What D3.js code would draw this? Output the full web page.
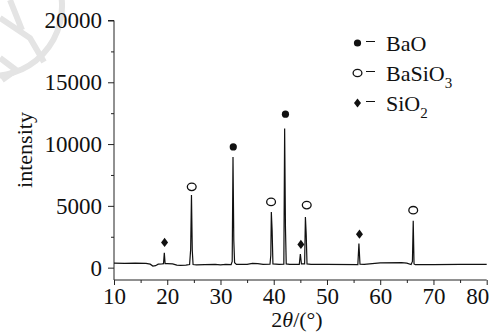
<!DOCTYPE html>
<html>
<head>
<meta charset="utf-8">
<script src="https://cdn.jsdelivr.net/npm/d3@7"></script>
<style>
  body { margin: 0; background: #fff; }
  svg text { font-family: "Liberation Serif", "DejaVu Serif", serif; fill: #111; }
</style>
</head>
<body>
<div id="chart"></div>
<script>
// XRD pattern: [2theta, intensity]
const pattern = [
  [10, 360], [12, 350], [14, 360], [16, 340], [16.8, 280], [17.3, 130], [17.8, 160], [18.3, 280],
  [19.0, 300], [19.3, 320], [19.45, 1200], [19.6, 320], [20, 330], [21, 300], [21.8, 200], [22.5, 180],
  [23.5, 200], [24.2, 250], [24.4, 1500], [24.55, 5870], [24.7, 1400], [24.85, 250], [25.5, 230],
  [27, 240], [29, 260], [30, 230], [31, 260], [32, 250], [32.2, 500], [32.35, 8960], [32.5, 2200],
  [32.65, 400], [33, 260], [35, 270], [36, 340], [37, 330], [38, 270], [39.3, 280], [39.45, 1000],
  [39.55, 4500], [39.7, 3000], [39.85, 300], [41, 270], [41.9, 280], [42.05, 11260], [42.2, 3300],
  [42.35, 300], [43, 260], [44.8, 270], [45.0, 1100], [45.2, 300], [45.8, 300], [45.95, 4100],
  [46.1, 2700], [46.25, 300], [47, 270], [50, 260], [55.8, 250], [56.0, 1950], [56.2, 280], [57, 270],
  [60, 390], [64, 400], [65, 360], [65.8, 250], [66.05, 500], [66.2, 3790], [66.35, 300], [66.6, 240],
  [70, 250], [75, 270], [80, 260]
];

// peak markers: [2theta, intensity, phase]
const markers = [
  [19.5, 2040, 'SiO2'], [24.6, 6540, 'BaSiO3'], [32.4, 9770, 'BaO'], [39.5, 5320, 'BaSiO3'],
  [42.2, 12420, 'BaO'], [45.1, 1880, 'SiO2'], [46.2, 5060, 'BaSiO3'], [56.1, 2710, 'SiO2'],
  [66.2, 4650, 'BaSiO3']
];

const phases = ['BaO', 'BaSiO3', 'SiO2'];
const phaseLabels = [['BaO', ''], ['BaSiO', '3'], ['SiO', '2']];

const xTicks = [10, 20, 30, 40, 50, 60, 70, 80];
const yTicks = [0, 5000, 10000, 15000, 20000];

const width = 497, height = 332;
const svg = d3.select('#chart').append('svg')
    .attr('width', width)
    .attr('height', height);

// faint watermark in the corner
const wm = svg.append('g')
    .attr('fill', 'none')
    .attr('stroke', '#e4e4e4')
    .attr('stroke-width', 6);
wm.append('path').attr('d', d3.arc()({innerRadius: 70, outerRadius: 70, startAngle: 1.35, endAngle: 3.3}))
    .attr('transform', 'translate(-8,6)');
wm.append('path').attr('d', 'M0,18 L30,38 L44,62 M10,0 L22,30 M0,58 L16,70 L2,80');

const x = d3.scaleLinear().domain([10, 80]).range([114, 486.7]);
const y = d3.scaleLinear().domain([-1000, 20000]).range([280, 20.5]);

// axes
const xAxis = svg.append('g')
    .attr('transform', 'translate(0,280)')
    .call(d3.axisBottom(x).tickValues(d3.range(10, 81, 5)).tickSize(4).tickPadding(4)
        .tickFormat(d => xTicks.includes(d) ? d : ''))
xAxis.selectAll('.tick line').attr('y2', d => xTicks.includes(d) ? 5 : 3);
// last label would run off the page, pull it in a little
xAxis.selectAll('.tick text').filter(d => d === 80).attr('text-anchor', 'end').attr('x', 2);

const yAxis = svg.append('g')
    .attr('transform', 'translate(114,0)')
    .call(d3.axisLeft(y).tickValues(d3.range(0, 20001, 2500)).tickSize(6).tickPadding(6)
        .tickFormat(d => yTicks.includes(d) ? d : ''))
yAxis.selectAll('.tick line').attr('x2', d => yTicks.includes(d) ? -6 : -3);

svg.selectAll('.domain').attr('stroke', '#222');
svg.selectAll('.tick line').attr('stroke', '#222');
svg.selectAll('.tick text').attr('font-size', 23).attr('fill', '#111')
    .style('font-family', '"Liberation Serif", serif');
// trim the y domain path's outer tick stub
yAxis.select('.domain').attr('d', `M-6,${y(20000)}H0V280`);
xAxis.select('.domain').attr('d', 'M114,0H486.7');

// the diffraction line
svg.append('path')
    .datum(pattern)
    .attr('fill', 'none')
    .attr('stroke', '#111')
    .attr('stroke-width', 1.2)
    .attr('d', d3.line().x(d => x(d[0])).y(d => y(d[1])));

function drawMarker(g, phase, cx, cy) {
  if (phase === 'BaO') {
    g.append('circle').attr('cx', cx).attr('cy', cy).attr('r', 3.6).attr('fill', '#111');
  } else if (phase === 'BaSiO3') {
    g.append('ellipse').attr('cx', cx).attr('cy', cy).attr('rx', 4.4).attr('ry', 3.7)
        .attr('fill', 'none').attr('stroke', '#111').attr('stroke-width', 1.3);
  } else {
    g.append('path').attr('d', `M${cx},${cy - 4.6}L${cx + 3.5},${cy}L${cx},${cy + 4.6}L${cx - 3.5},${cy}Z`)
        .attr('fill', '#111');
  }
}

const markerGroup = svg.append('g');
markers.forEach(m => drawMarker(markerGroup, m[2], x(m[0]), y(m[1])));

// legend
const legend = svg.append('g');
phases.forEach((p, i) => {
  const cy = 43 + i * 30;
  drawMarker(legend, p, 357.5, cy);
  legend.append('line')
      .attr('x1', 366).attr('x2', 375)
      .attr('y1', cy - 1.5).attr('y2', cy - 1.5)
      .attr('stroke', '#111').attr('stroke-width', 1);
  const t = legend.append('text')
      .attr('x', 386)
      .attr('y', cy + 7.5)
      .attr('font-size', 22)
      .text(phaseLabels[i][0]);
  if (phaseLabels[i][1]) {
    t.append('tspan').attr('dy', 7).attr('font-size', 15).text(phaseLabels[i][1]);
  }
});

// axis titles
svg.append('text')
    .attr('transform', 'translate(32,150) rotate(-90)')
    .attr('text-anchor', 'middle')
    .attr('font-size', 22)
    .text('intensity');

const xt = svg.append('text')
    .attr('x', 297)
    .attr('y', 327)
    .attr('text-anchor', 'middle')
    .attr('font-size', 22)
    .text('2');
xt.append('tspan').attr('font-style', 'italic').text('θ');
xt.append('tspan').text('/(°)');
</script>
</body>
</html>
